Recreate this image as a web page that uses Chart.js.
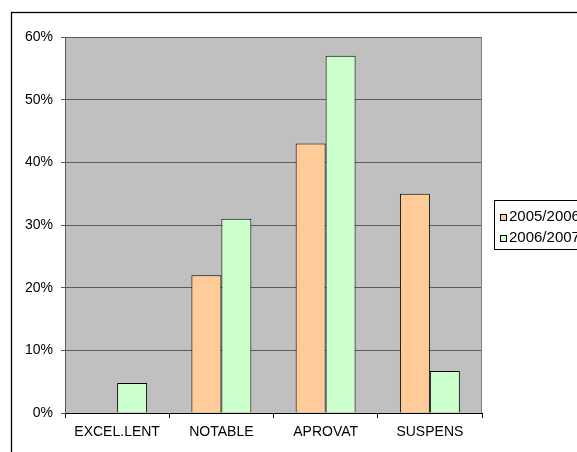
<!DOCTYPE html>
<html>
<head>
<meta charset="utf-8">
<script src="https://cdn.jsdelivr.net/npm/chart.js@4"></script>
<style>
  html, body { margin: 0; padding: 0; background: #fff; }
  canvas { display: block; }
</style>
</head>
<body>
<canvas id="grafik" width="577" height="452"></canvas>
<script>
// dades
const categories = ['EXCEL.LENT', 'NOTABLE', 'APROVAT', 'SUSPENS'];
const seriesNames = ['2005/2006', '2006/2007'];
const curs0506 = [0, 22, 43, 35];
const curs0607 = [4.8, 31, 57, 6.7];
const yTicks = [0, 10, 20, 30, 40, 50, 60];

const colors = ['#FFCC99', '#CCFFCC'];
const font = { family: '"Liberation Sans", Arial, sans-serif', size: 14 };

// fons gris, marc i llegenda
const plotBg = {
    id: 'plotBg',
    beforeDraw(chart) {
        const ctx = chart.ctx;
        const a = chart.chartArea;
        ctx.save();
        ctx.fillStyle = '#fff';
        ctx.fillRect(0, 0, chart.width, chart.height);
        ctx.strokeStyle = '#000';
        ctx.lineWidth = 1.3;
        ctx.strokeRect(11.5, 12.5, 700, 600);
        ctx.fillStyle = '#C0C0C0';
        ctx.fillRect(a.left, a.top, a.right - a.left, a.bottom - a.top);
        ctx.restore();
    },
    afterDraw(chart) {
        const ctx = chart.ctx;
        const a = chart.chartArea;
        ctx.save();
        ctx.strokeStyle = '#808080';
        ctx.lineWidth = 1;
        ctx.beginPath();
        ctx.moveTo(a.right - 0.5, a.top);
        ctx.lineTo(a.right - 0.5, a.bottom);
        ctx.stroke();

        // llegenda
        ctx.fillStyle = '#fff';
        ctx.fillRect(494.5, 200.5, 200, 49);
        ctx.strokeStyle = '#000';
        ctx.strokeRect(494.5, 200.5, 200, 49);
        ctx.font = '15px ' + font.family;
        ctx.textBaseline = 'middle';
        chart.data.datasets.forEach((ds, i) => {
            const y = 218 + i * 21;
            ctx.fillStyle = ds.backgroundColor;
            ctx.fillRect(500.5, y - 3.5, 6, 6);
            ctx.strokeStyle = '#000';
            ctx.strokeRect(500.5, y - 3.5, 6, 6);
            ctx.fillStyle = '#000';
            ctx.fillText(ds.label, 509, y - 1);
        });
        ctx.restore();
    }
};

const ctx = document.getElementById('grafik').getContext('2d');

new Chart(ctx, {
    type: 'bar',
    data: {
        labels: categories,
        datasets: [{
            label: seriesNames[0],
            data: curs0506,
            backgroundColor: colors[0],
            borderColor: '#000',
            borderWidth: 1,
            categoryPercentage: 0.575,
            barPercentage: 1
        }, {
            label: seriesNames[1],
            data: curs0607,
            backgroundColor: colors[1],
            borderColor: '#000',
            borderWidth: 1,
            categoryPercentage: 0.575,
            barPercentage: 1
        }]
    },
    options: {
        responsive: false,
        animation: false,
        devicePixelRatio: 1,
        layout: { padding: { left: 0, top: 37, right: 95, bottom: 0 } },
        plugins: {
            legend: { display: false },
            tooltip: { enabled: false }
        },
        scales: {
            x: {
                afterFit: s => { s.height = 39; },
                grid: {
                    offset: true,
                    drawOnChartArea: false,
                    drawTicks: true,
                    tickLength: 5,
                    color: '#000'
                },
                border: { display: true, color: '#000', width: 1 },
                ticks: { color: '#000', font: font, padding: 6, maxRotation: 0 }
            },
            y: {
                min: 0,
                max: 60,
                afterFit: s => { s.width = 65; },
                afterBuildTicks: s => { s.ticks = yTicks.map(v => ({ value: v })); },
                grid: {
                    color: '#5a5a5a',
                    tickLength: 4,
                    drawTicks: true
                },
                border: { display: true, color: '#5a5a5a', width: 1 },
                ticks: {
                    color: '#000',
                    font: font,
                    padding: 8,
                    callback: v => v + '%'
                }
            }
        }
    },
    plugins: [plotBg]
});
</script>
</body>
</html>
